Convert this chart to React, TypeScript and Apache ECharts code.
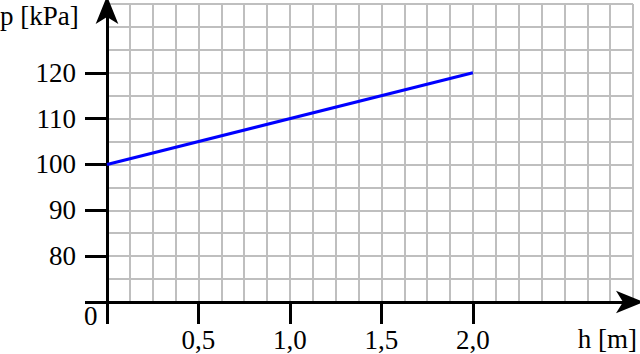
import React, { useEffect, useRef } from "react";
import * as echarts from "echarts";

const hValues = [0, 2.0];
const pValues = [100, 120];
const xTickLabels = ["0,5", "1,0", "1,5", "2,0"];
const yTickLabels = ["80", "90", "100", "110", "120"];
const xMax = 2.875;
const yMin = 70;
const yMax = 135;

const FONT = "Liberation Serif";

export default function App() {
  const ref = useRef<HTMLDivElement>(null);
  useEffect(() => {
    if (!ref.current) return;
    const chart = echarts.init(ref.current, null, { renderer: "svg" });
    const grid = { left: 107, top: 4, right: 7, bottom: 52 };
    const plotW = 640 - grid.left - grid.right;
    const plotH = 354 - grid.top - grid.bottom;
    const tickXMax = 2.0;
    const tickYMax = 120;
    const grid2 = {
      left: grid.left,
      bottom: grid.bottom,
      right: 640 - grid.left - (plotW * tickXMax) / xMax,
      top: 354 - grid.bottom - (plotH * (tickYMax - yMin)) / (yMax - yMin),
    };
    const lineColor = "#000";
    chart.setOption({
      animation: false,
      backgroundColor: "#fff",
      textStyle: { fontFamily: FONT },
      grid: [
        { ...grid, containLabel: false },
        { ...grid2, containLabel: false },
      ],
      xAxis: [
        {
          type: "value",
          gridIndex: 0,
          min: 0,
          max: xMax,
          interval: 0.125,
          axisLine: {
            show: true,
            lineStyle: { color: lineColor, width: 3 },
            symbol: ["none", "arrow"],
            symbolSize: [17, 28],
            symbolOffset: [0, 11],
          },
          axisTick: { show: false },
          axisLabel: { show: false },
          splitLine: { show: true, lineStyle: { color: "#bfbfbf", width: 2 } },
          z: 5,
        },
        {
          type: "value",
          gridIndex: 1,
          min: 0,
          max: tickXMax,
          interval: 0.5,
          axisLine: { show: false },
          axisTick: { show: true, inside: false, length: 22, lineStyle: { color: lineColor, width: 3 } },
          axisLabel: {
            show: true,
            margin: 24,
            fontFamily: FONT,
            fontSize: 27,
            color: "#000",
            formatter: (v: number) => {
              const i = Math.round(v / 0.5) - 1;
              return i >= 0 && i < xTickLabels.length ? xTickLabels[i] : "";
            },
          },
          splitLine: { show: false },
        },
      ],
      yAxis: [
        {
          type: "value",
          gridIndex: 0,
          min: yMin,
          max: yMax,
          interval: 5,
          axisLine: {
            show: true,
            lineStyle: { color: lineColor, width: 3 },
            symbol: ["none", "arrow"],
            symbolSize: [17, 28],
            symbolOffset: [0, 8],
          },
          axisTick: { show: false },
          axisLabel: { show: false },
          splitLine: { show: true, lineStyle: { color: "#bfbfbf", width: 2 } },
          z: 5,
        },
        {
          type: "value",
          gridIndex: 1,
          min: yMin,
          max: tickYMax,
          interval: 10,
          axisLine: { show: false },
          axisTick: { show: true, inside: false, length: 22, lineStyle: { color: lineColor, width: 3 } },
          axisLabel: {
            show: true,
            margin: 31,
            fontFamily: FONT,
            fontSize: 27,
            color: "#000",
            formatter: (v: number) => {
              const i = Math.round((v - 80) / 10);
              return i >= 0 && i < yTickLabels.length ? yTickLabels[i] : "";
            },
          },
          splitLine: { show: false },
        },
      ],
      graphic: [
        {
          type: "text",
          left: 0,
          top: 2,
          style: { text: "p [kPa]", font: `27px "${FONT}"`, fill: "#000" },
        },
        {
          type: "text",
          left: 84,
          top: 302,
          style: { text: "0", font: `27px "${FONT}"`, fill: "#000" },
        },
        {
          type: "text",
          right: 3,
          top: 325,
          style: { text: "h [m]", font: `27px "${FONT}"`, fill: "#000" },
        },
      ],
      series: [
        {
          type: "line",
          xAxisIndex: 0,
          yAxisIndex: 0,
          data: hValues.map((h, i) => [h, pValues[i]]),
          showSymbol: false,
          symbol: "none",
          lineStyle: { color: "#0000ff", width: 3 },
          z: 10,
        },
      ],
    });
    return () => chart.dispose();
  }, []);
  return (
    <div
      ref={ref}
      style={{ width: 640, height: 354, position: "absolute", left: 0, top: 0 }}
    />
  );
}
